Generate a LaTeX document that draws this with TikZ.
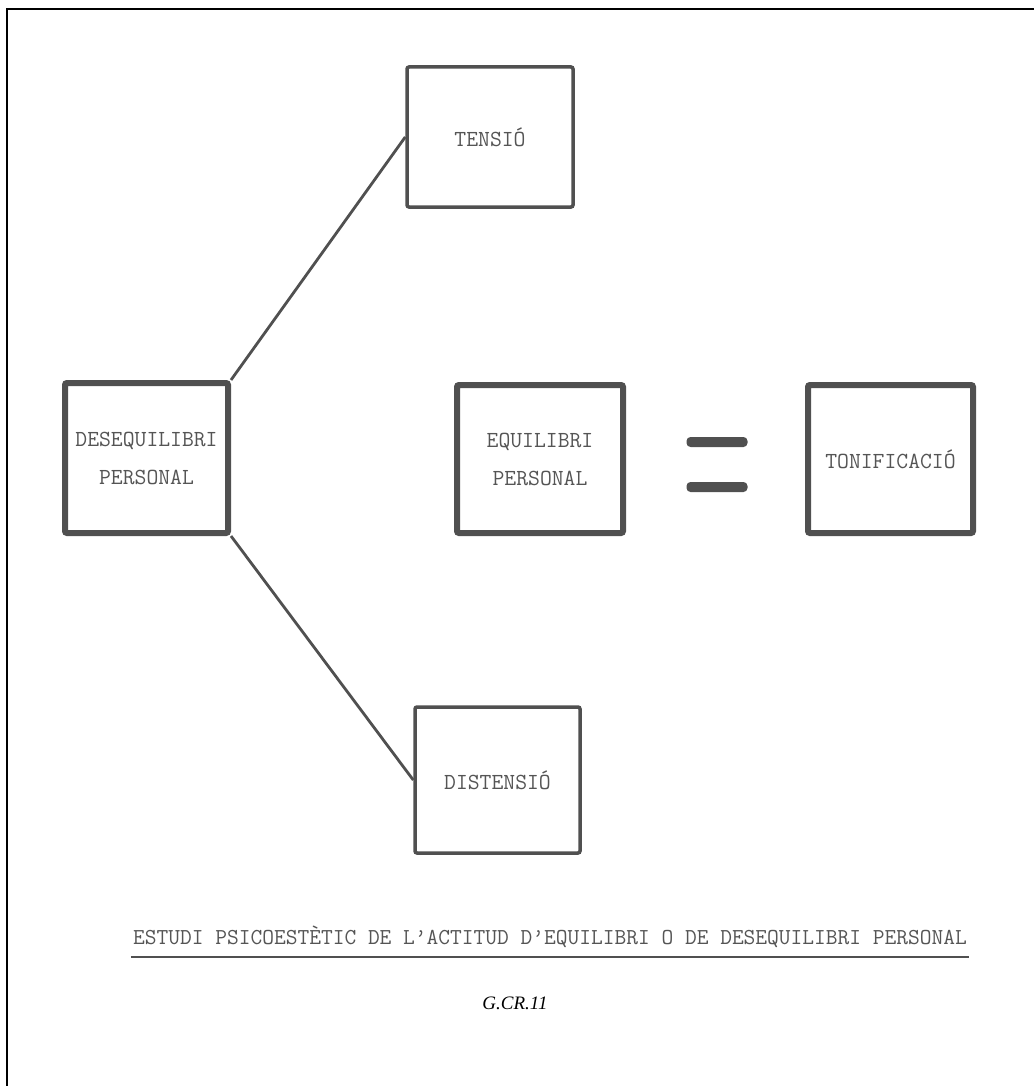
\documentclass[tikz,border=0pt]{standalone}
\usepackage{fontspec}
\newfontfamily\capfont{Liberation Serif}
\definecolor{ink}{RGB}{80,80,80}
\definecolor{typeink}{RGB}{85,85,85}
\begin{document}
\begin{tikzpicture}[x=1pt,y=-1pt,
  box/.style={draw=ink, rounded corners=2pt, fill=white, inner sep=0pt,
    font=\ttfamily\fontsize{23}{38}\selectfont, text=typeink, align=center},
  thinbox/.style={box, line width=3.5pt},
  thickbox/.style={box, line width=6pt},
  link/.style={draw=ink, line width=2.8pt},
  bar/.style={fill=ink, rounded corners=4pt, minimum width=61pt, minimum height=10pt, inner sep=0pt},
  typetext/.style={font=\ttfamily\fontsize{22.8}{24}\selectfont, text=typeink, inner sep=0pt},
]
\useasboundingbox (0,0) rectangle (1034,1086);
\draw[line width=2pt] (7,1086) -- (7,9) -- (1034,9);

\node[thinbox, minimum width=166pt, minimum height=140pt] (ten) at (490,137) {TENSIÓ};
\node[thickbox, minimum width=163pt, minimum height=150pt] (des) at (146.5,458) {DESEQUILIBRI\\PERSONAL};
\node[thickbox, minimum width=166pt, minimum height=148pt] (equ) at (540,459) {EQUILIBRI\\PERSONAL};
\node[thickbox, minimum width=165pt, minimum height=148pt] (ton) at (890.5,459) {TONIFICACIÓ};
\node[thinbox, minimum width=165pt, minimum height=146pt] (dis) at (497.5,780) {DISTENSIÓ};

\draw[link] (des.north east) -- (ten.west);
\draw[link] (des.south east) -- (dis.west);

\node[bar] (eqa) at (717,442) {};
\node[bar] (eqb) at (717,487) {};

\node[typetext] (cap) at (550,937) {ESTUDI PSICOESTÈTIC DE L’ACTITUD D’EQUILIBRI O DE DESEQUILIBRI PERSONAL};
\draw[draw=ink, line width=2pt] ([shift={(-2pt,-9pt)}]cap.south west) -- ([shift={(2pt,-9pt)}]cap.south east);

\node[font=\capfont\itshape\fontsize{19}{21}\selectfont] (ref) at (515,1003) {G.CR.11};
\end{tikzpicture}
\end{document}
